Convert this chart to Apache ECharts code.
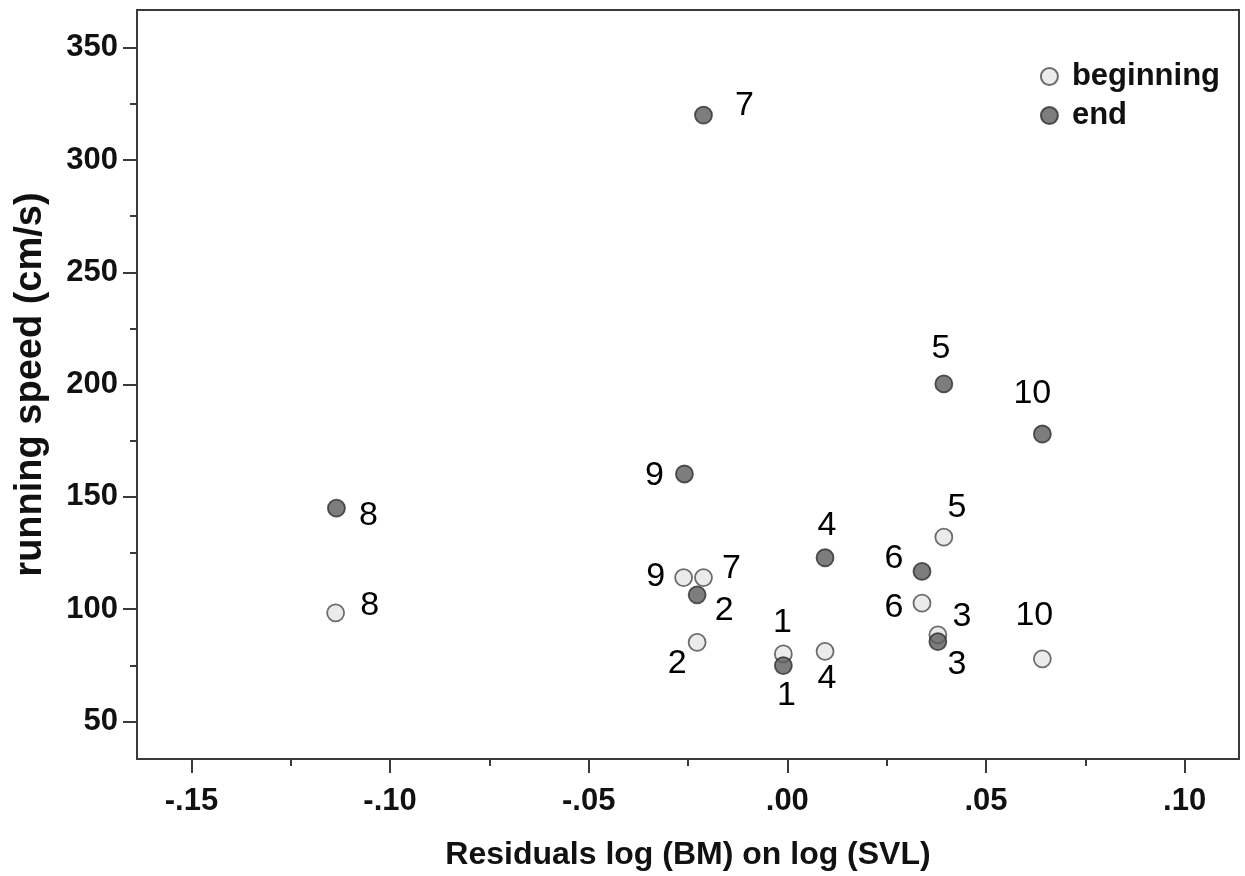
<!DOCTYPE html>
<html>
<head>
<meta charset="utf-8">
<script src="https://cdn.jsdelivr.net/npm/echarts@6/dist/echarts.min.js"></script>
<style>
  html, body { margin: 0; padding: 0; background: #fff; }
  #chart { width: 1245px; height: 876px; }
</style>
</head>
<body>
<div id="chart"></div>
<script>
// subject ids, residuals and running speeds
var ids = ['1', '2', '3', '4', '5', '6', '7', '8', '9', '10'];
var beginX = [-0.001, -0.0227, 0.0379, 0.0095, 0.0394, 0.0339, -0.0211, -0.1137, -0.0261, 0.0642];
var beginY = [80.1, 85.2, 88.6, 81.2, 132.1, 102.7, 114.1, 98.4, 114.1, 77.9];
var endX = [-0.001, -0.0227, 0.0379, 0.0095, 0.0394, 0.0339, -0.0211, -0.1135, -0.0259, 0.0642];
var endY = [74.9, 106.4, 85.6, 122.9, 200.3, 116.8, 320.0, 145.0, 160.2, 178.0];

var xTicks = [-0.15, -0.10, -0.05, 0.00, 0.05, 0.10];
var xMinor = [-0.125, -0.075, -0.025, 0.025, 0.075];
var yTicks = [50, 100, 150, 200, 250, 300, 350];
var yMinor = [75, 125, 175, 225, 275, 325];

// where each id label sits relative to its point (px)
var beginLabelOffset = {
    '1': [-1, -31], '2': [-20, 21], '3': [24, -18], '4': [2, 27], '5': [13, -29],
    '6': [-28, 4], '7': [28, -9], '8': [34, -7], '9': [-28, -1], '10': [-8, -43]
};
var endLabelOffset = {
    '1': [3, 30], '2': [27, 16], '3': [19, 23], '4': [2, -32], '5': [-3, -35],
    '6': [-28, -13], '7': [41, -9], '8': [32, 7], '9': [-30, 2], '10': [-10, -40]
};

var FONT = '"Liberation Sans", Arial, sans-serif';

function makeData(xs, ys, offsets) {
    return ids.map(function (id, i) {
        return {
            name: id,
            value: [xs[i], ys[i]],
            label: { offset: offsets[id], color: '#000000' }
        };
    });
}

function fmtX(v) {
    return v.toFixed(2).replace('0.', '.');
}

var labelStyle = {
    show: true,
    position: 'inside',
    formatter: '{b}',
    fontFamily: FONT,
    fontSize: 34,
    color: '#000000',
    opacity: 1,
    textBorderWidth: 0
};

var xMin = -0.1637, xMax = 0.1137, yMin = 33.3, yMax = 366.8;
var AXIS_COLOR = '#3a3a3a';

var option = {
    backgroundColor: '#fff',
    animation: false,
    grid: {
        left: 137, right: 6, top: 10, bottom: 117,
        outerBoundsMode: 'none',
        containLabel: false,
        show: true,
        borderColor: AXIS_COLOR,
        borderWidth: 2
    },
    legend: {
        data: ['beginning', 'end'],
        orient: 'vertical',
        right: 20,
        top: 56,
        icon: 'circle',
        itemWidth: 17,
        itemHeight: 17,
        itemGap: 8,
        textStyle: {
            fontFamily: FONT,
            fontSize: 31,
            fontWeight: 'bold',
            color: '#111',
            padding: [0, 0, 0, 9]
        }
    },
    xAxis: [{
        type: 'value',
        min: xMin, max: xMax,
        name: 'Residuals log (BM) on log (SVL)',
        nameLocation: 'middle',
        nameGap: 80,
        nameTextStyle: { fontFamily: FONT, fontSize: 32, fontWeight: 'bold', color: '#111' },
        splitLine: { show: false },
        axisLine: { onZero: false, lineStyle: { color: AXIS_COLOR, width: 2 } },
        axisTick: { show: true, customValues: xTicks, length: 14, lineStyle: { color: AXIS_COLOR, width: 2 } },
        axisLabel: {
            customValues: xTicks,
            formatter: fmtX,
            margin: 27,
            fontFamily: FONT, fontSize: 31, fontWeight: 'bold', color: '#111'
        }
    }, {
        type: 'value',
        min: xMin, max: xMax,
        position: 'bottom',
        splitLine: { show: false },
        axisLine: { show: false, onZero: false },
        axisTick: { show: true, customValues: xMinor, length: 7, lineStyle: { color: AXIS_COLOR, width: 2 } },
        axisLabel: { show: false }
    }],
    yAxis: [{
        type: 'value',
        min: yMin, max: yMax,
        name: 'running speed (cm/s)',
        nameLocation: 'middle',
        nameGap: 87,
        nameTextStyle: { fontFamily: FONT, fontSize: 38, fontWeight: 'bold', color: '#111' },
        splitLine: { show: false },
        axisLine: { onZero: false, lineStyle: { color: AXIS_COLOR, width: 2 } },
        axisTick: { show: true, customValues: yTicks, length: 14, lineStyle: { color: AXIS_COLOR, width: 2 } },
        axisLabel: {
            customValues: yTicks,
            margin: 19,
            fontFamily: FONT, fontSize: 31, fontWeight: 'bold', color: '#111'
        }
    }, {
        type: 'value',
        min: yMin, max: yMax,
        position: 'left',
        splitLine: { show: false },
        axisLine: { show: false, onZero: false },
        axisTick: { show: true, customValues: yMinor, length: 7, lineStyle: { color: AXIS_COLOR, width: 2 } },
        axisLabel: { show: false }
    }],
    series: [{
        name: 'beginning',
        type: 'scatter',
        symbol: 'circle',
        symbolSize: 17,
        itemStyle: { color: '#e6e6e6', borderColor: '#4a4a4a', borderWidth: 1.8 },
        label: labelStyle,
        data: makeData(beginX, beginY, beginLabelOffset)
    }, {
        name: 'end',
        type: 'scatter',
        symbol: 'circle',
        symbolSize: 17,
        itemStyle: { color: '#5c5c5c', borderColor: '#2e2e2e', borderWidth: 1.8 },
        label: labelStyle,
        data: makeData(endX, endY, endLabelOffset)
    }]
};

var myChart = echarts.init(document.getElementById('chart'));
myChart.setOption(option);
</script>
</body>
</html>
